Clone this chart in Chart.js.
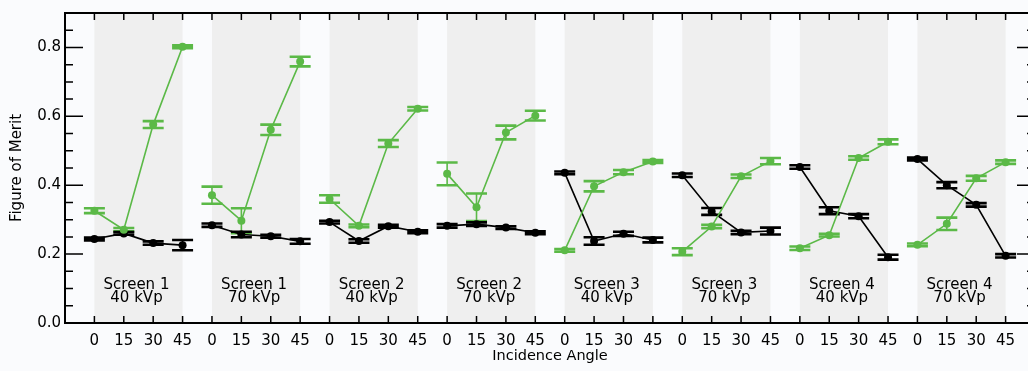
<!DOCTYPE html>
<html>
<head>
<meta charset="utf-8">
<script src="https://cdn.jsdelivr.net/npm/chart.js@4/dist/chart.umd.min.js"></script>
<style>
  html, body { margin: 0; padding: 0; overflow: hidden; background: #fafbfd; }
  #wrap { position: absolute; left: 0; top: 0; width: 1050px; height: 371px; }
</style>
</head>
<body>
<div id="wrap"><canvas id="fom" width="1050" height="371"></canvas></div>
<script>
// Panels: one screen / tube-voltage combination each
const panelScreens = ['Screen 1', 'Screen 1', 'Screen 2', 'Screen 2', 'Screen 3', 'Screen 3', 'Screen 4', 'Screen 4'];
const panelKvp = ['40 kVp', '70 kVp', '40 kVp', '70 kVp', '40 kVp', '70 kVp', '40 kVp', '70 kVp'];
const angleLabels = ['0', '15', '30', '45'];
const yTickValues = [0.0, 0.2, 0.4, 0.6, 0.8];

// Figure of merit per panel at 0, 15, 30, 45 degrees
const greenFom = [
  [0.326, 0.271, 0.576, 0.802],
  [0.371, 0.297, 0.561, 0.759],
  [0.360, 0.282, 0.521, 0.622],
  [0.433, 0.336, 0.553, 0.602],
  [0.211, 0.397, 0.438, 0.469],
  [0.207, 0.280, 0.426, 0.470],
  [0.217, 0.255, 0.479, 0.526],
  [0.227, 0.288, 0.420, 0.467]
];
const greenErr = [
  [0.007, 0.005, 0.010, 0.004],
  [0.025, 0.036, 0.015, 0.014],
  [0.011, 0.004, 0.010, 0.005],
  [0.033, 0.040, 0.020, 0.014],
  [0.004, 0.015, 0.006, 0.004],
  [0.010, 0.005, 0.005, 0.009],
  [0.005, 0.004, 0.005, 0.007],
  [0.004, 0.018, 0.007, 0.005]
];
const blackFom = [
  [0.244, 0.260, 0.232, 0.226],
  [0.284, 0.257, 0.252, 0.237],
  [0.293, 0.238, 0.281, 0.265],
  [0.282, 0.287, 0.277, 0.262],
  [0.436, 0.238, 0.259, 0.241],
  [0.429, 0.324, 0.263, 0.267],
  [0.453, 0.326, 0.310, 0.191],
  [0.476, 0.400, 0.343, 0.195]
];
const blackErr = [
  [0.004, 0.004, 0.005, 0.015],
  [0.005, 0.008, 0.004, 0.007],
  [0.004, 0.005, 0.004, 0.004],
  [0.005, 0.005, 0.004, 0.004],
  [0.004, 0.011, 0.006, 0.007],
  [0.005, 0.010, 0.005, 0.010],
  [0.005, 0.010, 0.006, 0.007],
  [0.004, 0.009, 0.005, 0.005]
];

const GREEN = '#5bb947';
const BLACK = '#000000';
const FONT = '"DejaVu Sans", sans-serif';
const nAngles = angleLabels.length;
const tickIndex = [];
panelScreens.forEach((_, p) => angleLabels.forEach((__, i) => tickIndex.push(p * nAngles + i)));

const seriesList = [
  { values: greenFom, errors: greenErr, color: GREEN },
  { values: blackFom, errors: blackErr, color: BLACK }
];

const datasets = [];
seriesList.forEach(s => {
  s.values.forEach((row, p) => {
    datasets.push({
      data: row.map((v, i) => ({ x: p * nAngles + i, y: v })),
      borderColor: s.color,
      backgroundColor: s.color,
      borderWidth: 1.6,
      pointRadius: 4,
      pointBorderWidth: 0,
      pointHoverRadius: 4,
      tension: 0
    });
  });
});

const panelDecor = {
  id: 'panelDecor',
  beforeDraw(chart) {
    const { ctx, chartArea: a, scales: { x } } = chart;
    ctx.save();
    ctx.fillStyle = '#fafbfd';
    ctx.fillRect(0, 0, chart.width, chart.height);
    ctx.fillStyle = '#efefef';
    panelScreens.forEach((_, p) => {
      const x0 = x.getPixelForValue(p * nAngles);
      const x1 = x.getPixelForValue(p * nAngles + nAngles - 1);
      ctx.fillRect(x0, a.top, x1 - x0, a.bottom - a.top);
    });
    ctx.restore();
  },
  beforeDatasetsDraw(chart) {
    const { ctx, scales: { x, y } } = chart;
    ctx.save();
    seriesList.forEach(s => {
      ctx.strokeStyle = s.color;
      s.values.forEach((row, p) => {
        row.forEach((v, i) => {
          const e = s.errors[p][i];
          const px = x.getPixelForValue(p * nAngles + i);
          const yHi = y.getPixelForValue(v + e);
          const yLo = y.getPixelForValue(v - e);
          ctx.lineWidth = 1.6;
          ctx.beginPath();
          ctx.moveTo(px, yHi); ctx.lineTo(px, yLo);
          ctx.stroke();
          ctx.lineWidth = 2.6;
          ctx.beginPath();
          ctx.moveTo(px - 10.5, yHi); ctx.lineTo(px + 10.5, yHi);
          ctx.moveTo(px - 10.5, yLo); ctx.lineTo(px + 10.5, yLo);
          ctx.stroke();
        });
      });
    });
    ctx.restore();
  },
  afterDatasetsDraw(chart) {
    const { ctx, scales: { x } } = chart;
    ctx.save();
    ctx.fillStyle = '#000';
    ctx.font = '15px ' + FONT;
    ctx.textAlign = 'center';
    ctx.textBaseline = 'middle';
    panelScreens.forEach((name, p) => {
      const cx = x.getPixelForValue(p * nAngles + (nAngles - 1) / 2) - 2;
      ctx.fillText(name, cx, 285);
      ctx.fillText(panelKvp[p], cx, 298.5);
    });
    ctx.restore();
  },
  afterDraw(chart) {
    const { ctx, chartArea: a, scales: { x, y } } = chart;
    ctx.save();
    ctx.strokeStyle = '#000';
    ctx.lineWidth = 1.5;
    ctx.beginPath();
    // angle ticks on bottom and top edges
    tickIndex.forEach(v => {
      const px = x.getPixelForValue(v);
      ctx.moveTo(px, a.bottom); ctx.lineTo(px, a.bottom - 7);
      ctx.moveTo(px, a.top); ctx.lineTo(px, a.top + 7);
    });
    // figure-of-merit ticks on left and right edges
    for (let k = 0; k <= 17; k++) {
      const v = k * 0.05;
      const py = y.getPixelForValue(v);
      const len = (k % 4 === 0) ? 18 : 8;
      ctx.moveTo(a.left, py); ctx.lineTo(a.left + len, py);
      ctx.moveTo(a.right, py); ctx.lineTo(a.right - len, py);
    }
    ctx.stroke();
    ctx.lineWidth = 2;
    ctx.strokeRect(a.left, a.top, a.right - a.left, a.bottom - a.top);
    ctx.restore();
  }
};

new Chart(document.getElementById('fom'), {
  type: 'line',
  data: { datasets },
  plugins: [panelDecor],
  options: {
    responsive: false,
    devicePixelRatio: 1,
    animation: false,
    events: [],
    layout: { padding: { top: 8, right: 15, left: 0, bottom: 0 } },
    plugins: { legend: { display: false }, tooltip: { enabled: false } },
    scales: {
      x: {
        type: 'linear',
        position: 'bottom',
        min: -1,
        max: tickIndex.length,
        afterBuildTicks: s => { s.ticks = tickIndex.map(v => ({ value: v })); },
        afterFit: s => { s.height = 48; },
        ticks: {
          callback: v => angleLabels[v % nAngles],
          font: { family: FONT, size: 15 },
          color: '#000',
          padding: 9,
          autoSkip: false,
          maxRotation: 0
        },
        grid: { display: false, drawTicks: false },
        border: { display: false },
        title: {
          display: true,
          text: 'Incidence Angle',
          font: { family: FONT, size: 14.5 },
          color: '#000',
          padding: { top: 0, bottom: 6 }
        }
      },
      y: {
        type: 'linear',
        min: 0,
        max: 0.9,
        afterBuildTicks: s => { s.ticks = yTickValues.map(v => ({ value: v })); },
        afterFit: s => { s.width = 65; },
        ticks: {
          callback: v => v.toFixed(1),
          font: { family: FONT, size: 15 },
          color: '#000',
          padding: 4
        },
        grid: { display: false, drawTicks: false },
        border: { display: false },
        title: {
          display: true,
          text: 'Figure of Merit',
          font: { family: FONT, size: 15 },
          color: '#000',
          padding: { top: 8, bottom: 0 }
        }
      }
    }
  }
});
</script>
</body>
</html>
